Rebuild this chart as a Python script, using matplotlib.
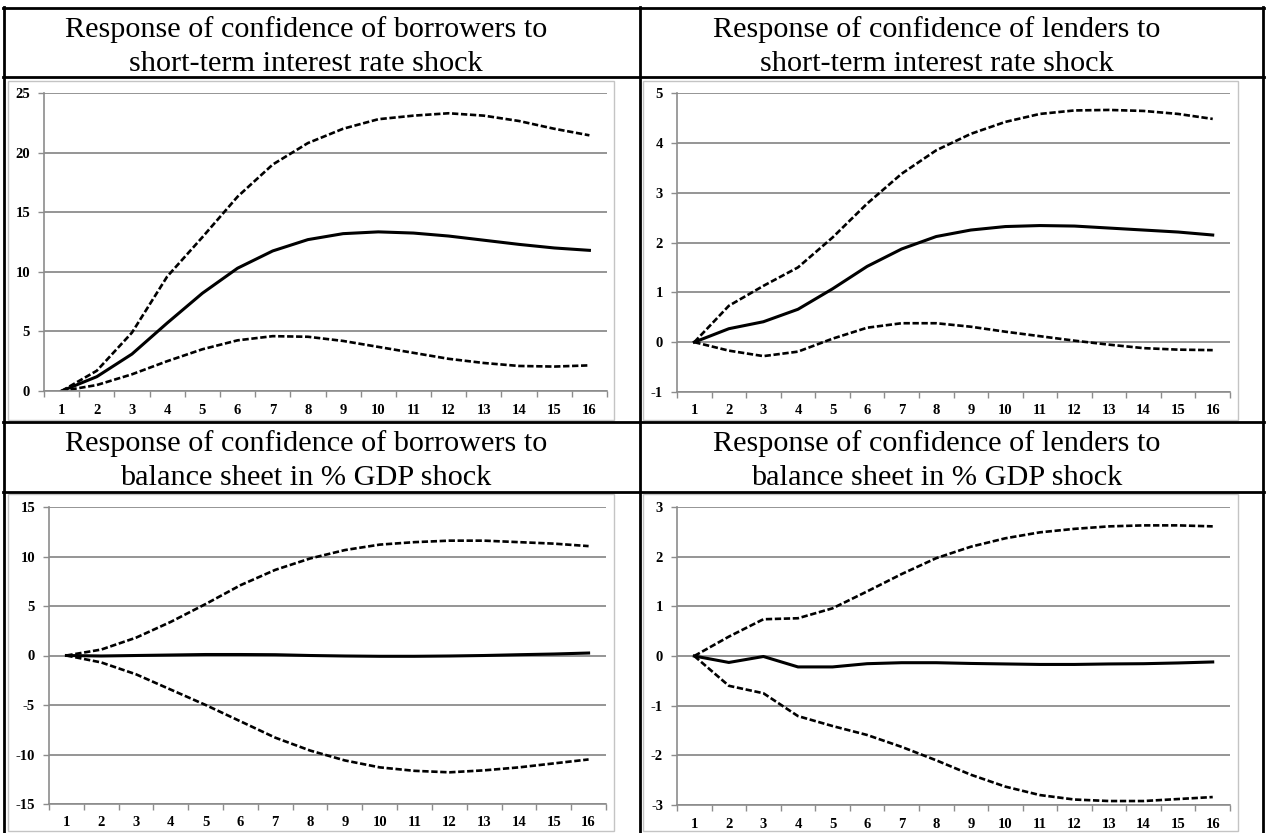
import matplotlib
matplotlib.use("Agg")
import matplotlib.pyplot as plt
from matplotlib.lines import Line2D
from matplotlib.patches import Rectangle

plt.rcParams['font.family'] = ['Liberation Serif', 'DejaVu Serif']
plt.rcParams['axes.unicode_minus'] = False

periods = list(range(1, 17))

# borrowers, short-term interest rate shock
bor_rate_up = [0, 1.7, 4.9, 9.6, 12.9, 16.3, 19.0, 20.8, 22.0, 22.8, 23.1, 23.3, 23.1, 22.65, 22.0, 21.45]
bor_rate_mid = [0, 1.2, 3.1, 5.7, 8.2, 10.3, 11.75, 12.7, 13.2, 13.35, 13.25, 13.0, 12.65, 12.3, 12.0, 11.8]
bor_rate_lo = [0, 0.5, 1.4, 2.5, 3.5, 4.25, 4.6, 4.55, 4.2, 3.7, 3.2, 2.7, 2.35, 2.1, 2.05, 2.15]

# lenders, short-term interest rate shock
len_rate_up = [0, 0.73, 1.13, 1.5, 2.1, 2.78, 3.38, 3.85, 4.18, 4.42, 4.58, 4.65, 4.66, 4.64, 4.58, 4.48]
len_rate_mid = [0, 0.27, 0.41, 0.66, 1.07, 1.52, 1.87, 2.12, 2.25, 2.32, 2.34, 2.33, 2.29, 2.25, 2.21, 2.15]
len_rate_lo = [0, -0.17, -0.28, -0.19, 0.07, 0.29, 0.38, 0.38, 0.31, 0.21, 0.12, 0.03, -0.05, -0.12, -0.15, -0.16]

# borrowers, balance sheet shock
bor_bs_up = [0, 0.6, 1.8, 3.4, 5.2, 7.1, 8.65, 9.8, 10.65, 11.2, 11.45, 11.6, 11.6, 11.45, 11.3, 11.05]
bor_bs_mid = [0, -0.05, 0, 0.05, 0.1, 0.1, 0.08, 0.0, -0.05, -0.08, -0.08, -0.05, 0.0, 0.08, 0.15, 0.25]
bor_bs_lo = [0, -0.7, -1.9, -3.45, -5.0, -6.65, -8.3, -9.6, -10.6, -11.3, -11.65, -11.8, -11.6, -11.3, -10.9, -10.5]

# lenders, balance sheet shock
len_bs_up = [0, 0.39, 0.74, 0.76, 0.96, 1.3, 1.65, 1.97, 2.2, 2.37, 2.49, 2.56, 2.61, 2.63, 2.63, 2.61]
len_bs_mid = [0, -0.13, -0.01, -0.22, -0.22, -0.155, -0.135, -0.135, -0.15, -0.16, -0.17, -0.17, -0.16, -0.155, -0.14, -0.12]
len_bs_lo = [0, -0.6, -0.75, -1.21, -1.41, -1.59, -1.83, -2.1, -2.39, -2.63, -2.8, -2.89, -2.92, -2.92, -2.88, -2.84]

titles = [
    ("Response of confidence of borrowers to", "short-term interest rate shock"),
    ("Response of confidence of lenders to", "short-term interest rate shock"),
    ("Response of confidence of borrowers to", "balance sheet in % GDP shock"),
    ("Response of confidence of lenders to", "balance sheet in % GDP shock"),
]

W, H = 1266, 833
fig = plt.figure(figsize=(W / 100, H / 100), dpi=100)


def fx(px):
    return px / W


def fy(py):
    return 1 - py / H


def hline(y, x0, x1):
    fig.add_artist(Line2D([fx(x0), fx(x1)], [fy(y), fy(y)], color='black', lw=2.0,
                          transform=fig.transFigure))


def vline(x, y0, y1):
    fig.add_artist(Line2D([fx(x), fx(x)], [fy(y0), fy(y1)], color='black', lw=2.0,
                          transform=fig.transFigure))


# table grid (no bottom rule, the page is cut there)
for y in [8, 77, 422, 492]:
    hline(y, 3, 1264)
for x in [4, 640, 1263]:
    vline(x, 7, 834)

panels = [
    # title, series, ylim, yticks, plot box (x0, y0, x1, y1), frame box, title x, title row top
    (titles[0], (bor_rate_up, bor_rate_mid, bor_rate_lo), (0, 25), range(0, 26, 5),
     (44, 93, 607, 391), (8, 81, 614, 420), 306, 8),
    (titles[1], (len_rate_up, len_rate_mid, len_rate_lo), (-1, 5), range(-1, 6),
     (677, 93, 1230, 392), (643, 81, 1238, 420), 937, 8),
    (titles[2], (bor_bs_up, bor_bs_mid, bor_bs_lo), (-15, 15), range(-15, 16, 5),
     (49, 507, 606, 804), (8, 494, 614, 831), 306, 422),
    (titles[3], (len_bs_up, len_bs_mid, len_bs_lo), (-3, 3), range(-3, 4),
     (677, 507, 1230, 805), (643, 494, 1238, 831), 937, 422),
]

grey = '#8c8c8c'

for (t1, t2), (up, mid, lo), ylim, yticks, pbox, fbox, tx, ttop in panels:
    fig.text(fx(tx), fy(ttop + 29), t1, ha='center', va='baseline', fontsize=21.8)
    fig.text(fx(tx), fy(ttop + 63), t2, ha='center', va='baseline', fontsize=21.8)

    fig.add_artist(Rectangle((fx(fbox[0]), fy(fbox[3])), fx(fbox[2] - fbox[0]),
                             (fbox[3] - fbox[1]) / H, fill=False, edgecolor='#c4c4c4',
                             lw=1.0, transform=fig.transFigure))

    ax = fig.add_axes([fx(pbox[0]), fy(pbox[3]), fx(pbox[2] - pbox[0]),
                       (pbox[3] - pbox[1]) / H])
    ax.plot(periods, up, color='black', lw=1.9, ls=(0, (2.4, 1.0)))
    ax.plot(periods, lo, color='black', lw=1.9, ls=(0, (2.4, 1.0)))
    ax.plot(periods, mid, color='black', lw=2.2)

    ax.set_xlim(0.5, 16.5)
    ax.set_ylim(*ylim)
    ax.set_yticks(list(yticks))
    ax.set_xticks(periods)
    ax.set_xticks([p + 0.5 for p in range(0, 17)], minor=True)
    ax.tick_params(axis='x', which='major', length=0, pad=9)
    ax.tick_params(axis='x', which='minor', length=4, color=grey, width=1.0)
    ax.tick_params(axis='y', length=4, color=grey, width=1.0, pad=6)
    for lab in ax.get_xticklabels() + ax.get_yticklabels():
        lab.set_fontweight('bold')
        lab.set_fontsize(10.5)
    ax.grid(axis='y', color=grey, lw=1.3)
    ax.set_axisbelow(True)
    for side in ['top', 'right']:
        ax.spines[side].set_visible(False)
    for side in ['left', 'bottom']:
        ax.spines[side].set_color(grey)
        ax.spines[side].set_linewidth(1.2)

fig.savefig('out.png', dpi=100)
